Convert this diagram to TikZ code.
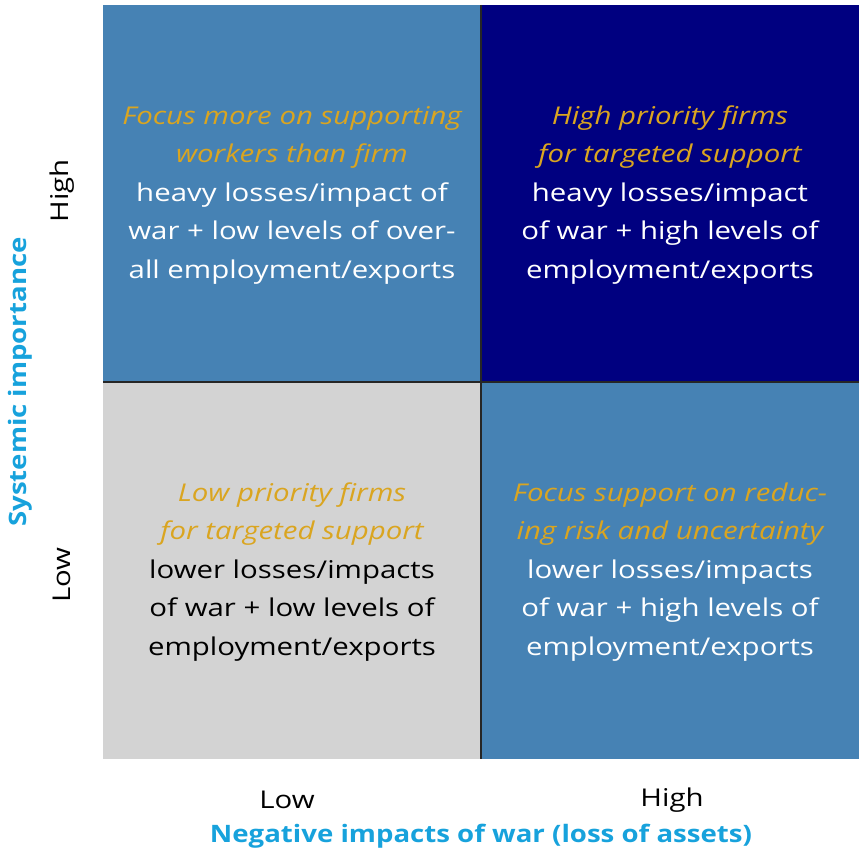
\documentclass[tikz,border=0pt]{standalone}
\usepackage{fontspec}
\setmainfont{Open Sans}[FakeStretch=1.2]
\newfontfamily\axisfont{Open Sans}[FakeStretch=1.15]
\usetikzlibrary{positioning}
\definecolor{cellblue}{HTML}{4682B4}
\definecolor{cellnavy}{HTML}{000080}
\definecolor{cellgray}{HTML}{D3D3D3}
\definecolor{headgold}{HTML}{DAA520}
\definecolor{axisblue}{HTML}{17A2DC}
\tikzset{
  cell/.style={minimum width=378pt, minimum height=377pt, inner sep=0pt, outer sep=0pt},
  celltext/.style={align=center, yshift=-1.5pt, font=\fontsize{24.5}{38.5}\selectfont},
  tick/.style={font=\fontsize{24.5}{30}\selectfont},
  axistitle/.style={text=axisblue, font=\fontsize{24}{30}\axisfont\bfseries}
}
\newcommand{\head}[1]{\textcolor{headgold}{\itshape #1}}
\begin{document}
\begin{tikzpicture}[x=1pt, y=-1pt]
\useasboundingbox (0,0) rectangle (859,856);
% four cells
\node[cell, fill=cellblue, anchor=north west] (tl) at (103,5) {};
\node[cell, fill=cellnavy, anchor=north west] (tr) at (481,5) {};
\node[cell, fill=cellgray, anchor=north west] (bl) at (103,382) {};
\node[cell, fill=cellblue, anchor=north west] (br) at (481,382) {};
\draw[black!85, line width=1.5pt] (tl.north east) -- (br.south west);
\draw[black!85, line width=1.5pt] (tl.south west) -- (br.north east);
% cell texts
\node[celltext, text=white] at (tl.center) {\head{Focus more on supporting}\\ \head{workers than firm}\\ heavy losses/impact of\\ war + low levels of over-\\ all employment/exports};
\node[celltext, text=white] at (tr.center) {\head{High priority firms}\\ \head{for targeted support}\\ heavy losses/impact\\ of war + high levels of\\ employment/exports};
\node[celltext, text=black] at (bl.center) {\head{Low priority firms}\\ \head{for targeted support}\\ lower losses/impacts\\ of war + low levels of\\ employment/exports};
\node[celltext, text=white] at (br.center) {\head{Focus support on reduc-}\\ \head{ing risk and uncertainty}\\ lower losses/impacts\\ of war + high levels of\\ employment/exports};
% axes
\node[tick, rotate=90] (yhigh) at (62,191) {High};
\node[tick, rotate=90] (ylow) at (62,575) {Low};
\node[axistitle, rotate=90] (ytitle) at (20,382) {Systemic importance};
\node[tick] (xlow) at (287,800) {Low};
\node[tick] (xhigh) at (672,800) {High};
\node[axistitle] (xtitle) at (481,836) {Negative impacts of war (loss of assets)};
\end{tikzpicture}
\end{document}
